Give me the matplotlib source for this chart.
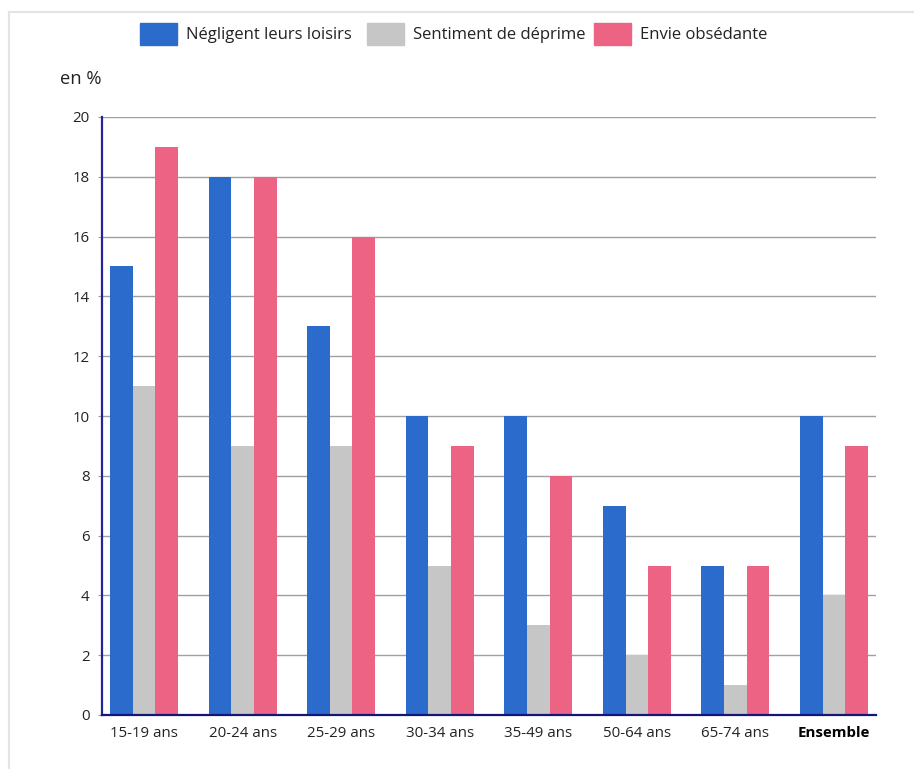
import matplotlib
matplotlib.use("Agg")
import matplotlib.pyplot as plt
from matplotlib.patches import Rectangle
from matplotlib.lines import Line2D
import numpy as np

plt.rcParams['font.family'] = ['Open Sans', 'DejaVu Sans']

categories = ["15-19 ans", "20-24 ans", "25-29 ans", "30-34 ans",
              "35-49 ans", "50-64 ans", "65-74 ans", "Ensemble"]
series_names = ["Négligent leurs loisirs", "Sentiment de déprime", "Envie obsédante"]
negligent = [15, 18, 13, 10, 10, 7, 5, 10]
deprime = [11, 9, 9, 5, 3, 2, 1, 4]
envie = [19, 18, 16, 9, 8, 5, 5, 9]
colors = ["#2a6bcb", "#c6c6c6", "#ec6383"]
yticks = [0, 2, 4, 6, 8, 10, 12, 14, 16, 18, 20]

W, H = 914, 769
fig = plt.figure(figsize=(W / 100, H / 100), dpi=100)

# light outer frame
fig.add_artist(Line2D([9 / W, 9 / W], [0, 1 - 12 / H], transform=fig.transFigure,
                      color="#e4e4e4", lw=1.6))
fig.add_artist(Line2D([9 / W, 1], [1 - 12 / H, 1 - 12 / H], transform=fig.transFigure,
                      color="#e4e4e4", lw=1.6))

ax_left, ax_right = 102, 876
ax_top, ax_bottom = 117, 715
ax = fig.add_axes([ax_left / W, 1 - ax_bottom / H, (ax_right - ax_left) / W,
                   (ax_bottom - ax_top) / H])

x = np.arange(len(categories))
bw = 0.23
for i, (vals, col) in enumerate(zip([negligent, deprime, envie], colors)):
    ax.bar(x + (i - 1) * bw, vals, width=bw, color=col, zorder=3)

ax.set_ylim(0, 20)
ax.set_xlim(-0.426, len(categories) - 1 + 0.426)
ax.set_yticks(yticks)
ax.set_yticklabels([str(v) for v in yticks], fontsize=10.8, color="#222222")
ax.yaxis.grid(True, color="#a0a0a0", lw=1.0, zorder=0)
ax.tick_params(axis='y', length=3, color="#a0a0a0", pad=6)
ax.set_xticks(x)
ax.set_xticklabels(categories, fontsize=10.8, color="#222222")
ax.tick_params(axis='x', length=0, pad=8)
ax.get_xticklabels()[-1].set_fontweight("bold")
ax.get_xticklabels()[-1].set_color("#000000")

for s in ["top", "right"]:
    ax.spines[s].set_visible(False)
ax.spines["left"].set_color("#23239c")
ax.spines["left"].set_linewidth(1.6)
ax.spines["bottom"].set_color("#14147a")
ax.spines["bottom"].set_linewidth(1.6)
ax.spines["bottom"].set_zorder(4)

fig.text(60 / W, 1 - 79 / H, "en %", fontsize=13.2, color="#222222", va="center", ha="left")

# legend row
leg_y = 35
for name, col, x0 in zip(series_names, colors, [140, 367, 594]):
    fig.add_artist(Rectangle((x0 / W, 1 - 45 / H), 37 / W, 22 / H,
                             transform=fig.transFigure, color=col))
    fig.text((x0 + 46) / W, 1 - leg_y / H, name, fontsize=12, color="#222222",
             va="center", ha="left")

fig.savefig("out.png", dpi=100)
